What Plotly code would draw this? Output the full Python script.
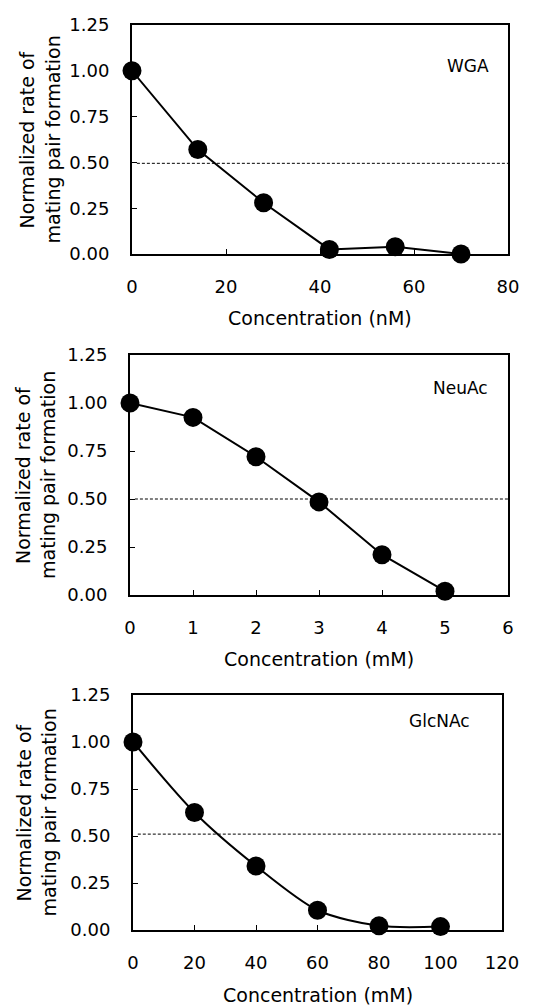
import plotly.graph_objects as go

# ---- data ----
wga_x = [0, 14, 28, 42, 56, 70]
wga_y = [1.00, 0.57, 0.28, 0.025, 0.04, 0.0]
neu_x = [0, 1, 2, 3, 4, 5]
neu_y = [1.00, 0.925, 0.72, 0.485, 0.21, 0.02]
glc_x = [0, 20, 40, 60, 80, 100]
glc_y = [1.00, 0.625, 0.34, 0.105, 0.022, 0.018]
half_levels = [0.495, 0.5, 0.51]
labels = ["WGA", "NeuAc", "GlcNAc"]
x_titles = ["Concentration (nM)", "Concentration (mM)", "Concentration (mM)"]
x_ranges = [[0, 80], [0, 6], [0, 120]]
x_dticks = [20, 1, 20]
y_ticks = [0, 0.25, 0.5, 0.75, 1.0, 1.25]
y_title_lines = ["Normalized rate of", "mating pair formation"]

# page body has an 8px margin: lay out in window pixels, shifted by OFF
OFF = 8
W, H = 533 - OFF, 1005 - OFF
# pixel boxes for panels in window coords: (left, right, top, bottom)
boxes = [(132, 508, 25, 254), (130, 508, 355, 595), (133, 502, 695, 930)]
label_pos = [(468, 66), (460, 388), (439, 721)]
xtitle_y = [318, 659, 995]
ytitle_x = [(26, 52), (23, 48), (23, 48)]

FONT = "DejaVu Sans"


def px(x):
    return (x - OFF) / W


def py(y):
    return 1 - (y - OFF) / H


fig = go.Figure()
series = [(wga_x, wga_y, "linear"), (neu_x, neu_y, "linear"), (glc_x, glc_y, "spline")]

for i, (xs, ys, shape) in enumerate(series):
    ax = "" if i == 0 else str(i + 1)
    fig.add_trace(go.Scatter(
        x=xs, y=ys, mode="lines+markers",
        line=dict(color="black", width=2, shape=shape, smoothing=0.8),
        marker=dict(color="black", size=19),
        xaxis="x" + ax, yaxis="y" + ax, cliponaxis=False, showlegend=False,
    ))
    l, r, t, b = boxes[i]
    common = dict(showline=True, mirror=True, linecolor="black", linewidth=2,
                  ticks="inside", ticklen=5, tickwidth=1, tickcolor="black",
                  showgrid=False, zeroline=False, automargin=False,
                  tickfont=dict(family=FONT, size=18, color="black"))
    fig.layout["xaxis" + ax] = dict(domain=[px(l), px(r)], range=x_ranges[i],
                                    dtick=x_dticks[i], tick0=0,
                                    anchor="y" + ax, ticklabelstandoff=15, **common)
    fig.layout["yaxis" + ax] = dict(domain=[py(b), py(t)], range=[0, 1.25],
                                    tickvals=y_ticks, tickformat=".2f",
                                    anchor="x" + ax, ticklabelstandoff=17, **common)
    fig.add_shape(type="line", xref="x" + ax + " domain", yref="y" + ax,
                  x0=0.013, x1=1, y0=half_levels[i], y1=half_levels[i],
                  line=dict(color="black", width=1, dash="3px,2px"))
    lx, ly = label_pos[i]
    fig.add_annotation(x=px(lx), y=py(ly), xref="paper", yref="paper",
                       text=labels[i], showarrow=False,
                       font=dict(family=FONT, size=17, color="black"),
                       xanchor="center", yanchor="middle")
    fig.add_annotation(x=px((l + r) / 2), y=py(xtitle_y[i]), xref="paper", yref="paper",
                       text=x_titles[i], showarrow=False,
                       font=dict(family=FONT, size=19, color="black"),
                       xanchor="center", yanchor="middle")
    for line_text, tx in zip(y_title_lines, ytitle_x[i]):
        fig.add_annotation(x=px(tx), y=py((t + b) / 2), xref="paper", yref="paper",
                           text=line_text, showarrow=False, textangle=-90,
                           font=dict(family=FONT, size=19, color="black"),
                           xanchor="center", yanchor="middle")

fig.update_layout(width=W, height=H, margin=dict(l=0, r=0, t=0, b=0, autoexpand=False),
                  paper_bgcolor="white", plot_bgcolor="white", template="none")
fig.write_html("out.html")
